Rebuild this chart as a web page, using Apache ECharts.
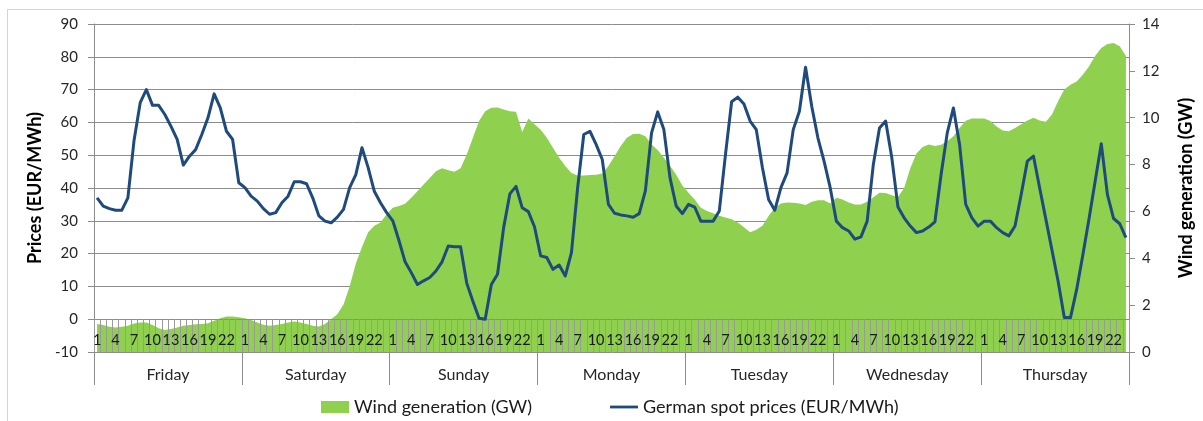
<!DOCTYPE html>
<html>
<head>
<meta charset="utf-8">
<script src="https://cdn.jsdelivr.net/npm/echarts@6/dist/echarts.min.js"></script>
<style>
html, body { margin: 0; padding: 0; background: #fff; }
#frame { position: absolute; left: 7px; top: 9px; width: 1300px; height: 500px; border: 1px solid #d4d4d4; }
#chart { position: absolute; left: 0; top: 0; width: 1203px; height: 421px; }
</style>
</head>
<body>
<div id="frame"></div>
<div id="chart"></div>
<script>
// week of hourly data, Friday -> Thursday
const days = ['Friday', 'Saturday', 'Sunday', 'Monday', 'Tuesday', 'Wednesday', 'Thursday']
const hours = [1, 2, 3, 4, 5, 6, 7, 8, 9, 10, 11, 12, 13, 14, 15, 16, 17, 18, 19, 20, 21, 22, 23, 24]

// German spot prices (EUR/MWh), one array per day
const priceFri = [37, 34.5, 33.7, 33.2, 33.2, 37, 54.5, 66, 70, 65.2, 65.2, 62.4, 58.8, 54.8, 47, 49.7, 51.7, 56.3, 61.4, 68.7, 64.4, 57.3, 54.8, 41.6]
const priceSat = [40.1, 37.5, 36, 33.7, 32, 32.5, 35.5, 37.5, 41.9, 41.9, 41.3, 37, 31.5, 29.9, 29.4, 31.1, 33.5, 40.1, 44.1, 52.3, 46.2, 39, 35.5, 32.5]
const priceSun = [30, 24, 17.5, 14.2, 10.6, 11.7, 12.7, 14.7, 17.5, 22.3, 22.1, 22.1, 11, 5.5, 0.3, 0, 10.6, 13.7, 28, 38.2, 40.5, 34, 32.8, 28.2]
const priceMon = [19.3, 18.8, 15.2, 16.5, 13.2, 20.3, 40, 56.3, 57.3, 53.3, 48.7, 35, 32.3, 31.8, 31.5, 31.1, 32.2, 39.1, 56.8, 63.2, 57.8, 43.1, 34.5, 32.2]
const priceTue = [35, 34.2, 29.9, 29.9, 29.9, 33, 50.2, 66.3, 67.7, 65.6, 60.4, 57.8, 46.2, 36.5, 33.2, 40.1, 44.6, 57.8, 63.4, 76.8, 64.9, 55.3, 48.2, 40.1]
const priceWed = [29.9, 27.9, 26.9, 24.4, 25.1, 29.9, 47.2, 58.3, 60.4, 49.2, 34.2, 30.9, 28.4, 26.4, 26.9, 28.1, 29.7, 44.1, 56.8, 64.4, 53.3, 35, 30.9, 28.4]
const priceThu = [29.9, 29.9, 27.9, 26.4, 25.4, 28.4, 38, 48.2, 49.7, 40, 30.5, 21, 11.5, 0.5, 0.5, 9, 19.5, 30.5, 42, 53.5, 38, 30.7, 29.1, 24.9]

// wind generation (GW)
const windFri = [1.19, 1.15, 1.08, 1.05, 1.08, 1.12, 1.22, 1.26, 1.26, 1.15, 1.01, 0.94, 0.98, 1.05, 1.12, 1.15, 1.18, 1.19, 1.23, 1.33, 1.44, 1.51, 1.51, 1.48]
const windSat = [1.44, 1.37, 1.26, 1.16, 1.12, 1.15, 1.19, 1.26, 1.30, 1.26, 1.19, 1.12, 1.09, 1.19, 1.40, 1.61, 2.03, 2.80, 3.78, 4.48, 5.11, 5.39, 5.53, 5.88]
const windSun = [6.16, 6.23, 6.33, 6.58, 6.86, 7.15, 7.43, 7.71, 7.84, 7.76, 7.69, 7.84, 8.43, 9.14, 9.86, 10.28, 10.42, 10.44, 10.35, 10.28, 10.25, 9.39, 9.97, 9.72]
const windMon = [9.49, 9.14, 8.72, 8.29, 7.94, 7.64, 7.53, 7.53, 7.55, 7.57, 7.62, 7.94, 8.36, 8.79, 9.14, 9.31, 9.32, 9.21, 8.86, 8.62, 8.29, 7.95, 7.57, 7.11]
const windTue = [6.80, 6.51, 6.16, 6.02, 5.92, 5.82, 5.74, 5.67, 5.53, 5.32, 5.11, 5.22, 5.39, 5.81, 6.16, 6.34, 6.38, 6.37, 6.34, 6.27, 6.41, 6.48, 6.48, 6.34]
const windWed = [6.58, 6.51, 6.38, 6.30, 6.30, 6.41, 6.61, 6.80, 6.79, 6.69, 6.62, 7.00, 7.84, 8.47, 8.75, 8.86, 8.79, 8.85, 9.00, 9.21, 9.56, 9.87, 9.97, 9.97]
const windThu = [9.97, 9.86, 9.63, 9.45, 9.42, 9.56, 9.72, 9.88, 10.00, 9.88, 9.83, 10.14, 10.71, 11.20, 11.41, 11.55, 11.83, 12.19, 12.63, 12.98, 13.15, 13.19, 13.05, 12.63]

const priceData = [].concat(priceFri, priceSat, priceSun, priceMon, priceTue, priceWed, priceThu)
const windData = [].concat(windFri, windSat, windSun, windMon, windTue, windWed, windThu)
const hourCats = []
days.forEach(() => hours.forEach((h) => hourCats.push(String(h))))

const font = 'Lato, "Open Sans", sans-serif'
const gray = '#8c8c8c'
const tickGray = '#9a9a9a'
const green = '#8fd14f'
const blue = '#1f4a7d'

const gridHeight = 328
// hour axis sits on price = 0, i.e. one 10-unit step above the -10 floor
const hourAxisOffset = -gridHeight / 10

const chart = echarts.init(document.getElementById('chart'))
const option = {
  animation: false,
  textStyle: { fontFamily: font },
  grid: { left: 94, right: 65, top: 24, height: gridHeight },
  legend: {
    left: 316,
    top: 393,
    itemWidth: 28,
    itemHeight: 12,
    itemGap: 78,
    textStyle: { fontSize: 18, color: '#1a1a1a', fontFamily: font },
    data: [
      { name: 'Wind generation (GW)', icon: 'rect' },
      // thin bar so the key reads as a plain line
      { name: 'German spot prices (EUR/MWh)', icon: 'path://M0,0H30V3H0Z' },
    ],
  },
  xAxis: [
    {
      type: 'category',
      data: hourCats,
      position: 'bottom',
      offset: hourAxisOffset,
      boundaryGap: true,
      z: 3,
      axisLine: { show: true, onZero: false, lineStyle: { color: gray, width: 1 } },
      axisTick: { show: true, inside: false, interval: 0, length: 33, lineStyle: { color: tickGray, width: 1 } },
      axisLabel: { show: true, interval: 2, margin: 14, fontSize: 14.5, color: '#1a1a1a', fontFamily: font },
      splitLine: { show: false },
    },
    {
      type: 'category',
      data: days,
      position: 'bottom',
      offset: 0,
      boundaryGap: true,
      axisLine: { show: false, onZero: false },
      axisTick: { show: true, inside: false, interval: 0, length: 33, lineStyle: { color: gray, width: 1 } },
      axisLabel: { margin: 15, fontSize: 16, color: '#262626', fontFamily: font },
      splitLine: { show: false },
    },
  ],
  yAxis: [
    {
      type: 'value',
      min: -10,
      max: 90,
      interval: 10,
      name: 'Prices (EUR/MWh)',
      nameLocation: 'middle',
      nameRotate: 90,
      nameGap: 49,
      nameTextStyle: { fontSize: 18, fontWeight: 'bold', color: '#000', fontFamily: font },
      axisLine: { show: true, lineStyle: { color: gray } },
      axisTick: { show: true, length: 6, lineStyle: { color: gray } },
      axisLabel: { margin: 16, fontSize: 15, color: '#262626', fontFamily: font },
      splitLine: { show: true, lineStyle: { color: gray, width: 1 } },
    },
    {
      type: 'value',
      min: 0,
      max: 14,
      interval: 2,
      position: 'right',
      name: 'Wind generation (GW)',
      nameLocation: 'middle',
      nameRotate: 90,
      nameGap: 48,
      nameTextStyle: { fontSize: 18, fontWeight: 'bold', color: '#000', fontFamily: font },
      axisLine: { show: true, lineStyle: { color: gray } },
      axisTick: { show: true, length: 6, lineStyle: { color: gray } },
      axisLabel: { margin: 13, fontSize: 15, color: '#262626', fontFamily: font },
      splitLine: { show: false },
    },
  ],
  series: [
    {
      name: 'Wind generation (GW)',
      type: 'line',
      xAxisIndex: 0,
      yAxisIndex: 1,
      data: windData,
      symbol: 'none',
      z: 2,
      itemStyle: { color: green },
      lineStyle: { width: 0, color: green },
      areaStyle: { color: green, opacity: 1 },
    },
    {
      name: 'German spot prices (EUR/MWh)',
      type: 'line',
      xAxisIndex: 0,
      yAxisIndex: 0,
      data: priceData,
      symbol: 'none',
      z: 4,
      itemStyle: { color: blue },
      lineStyle: { width: 3, color: blue, join: 'round' },
    },
  ],
}
chart.setOption(option)
</script>
</body>
</html>
